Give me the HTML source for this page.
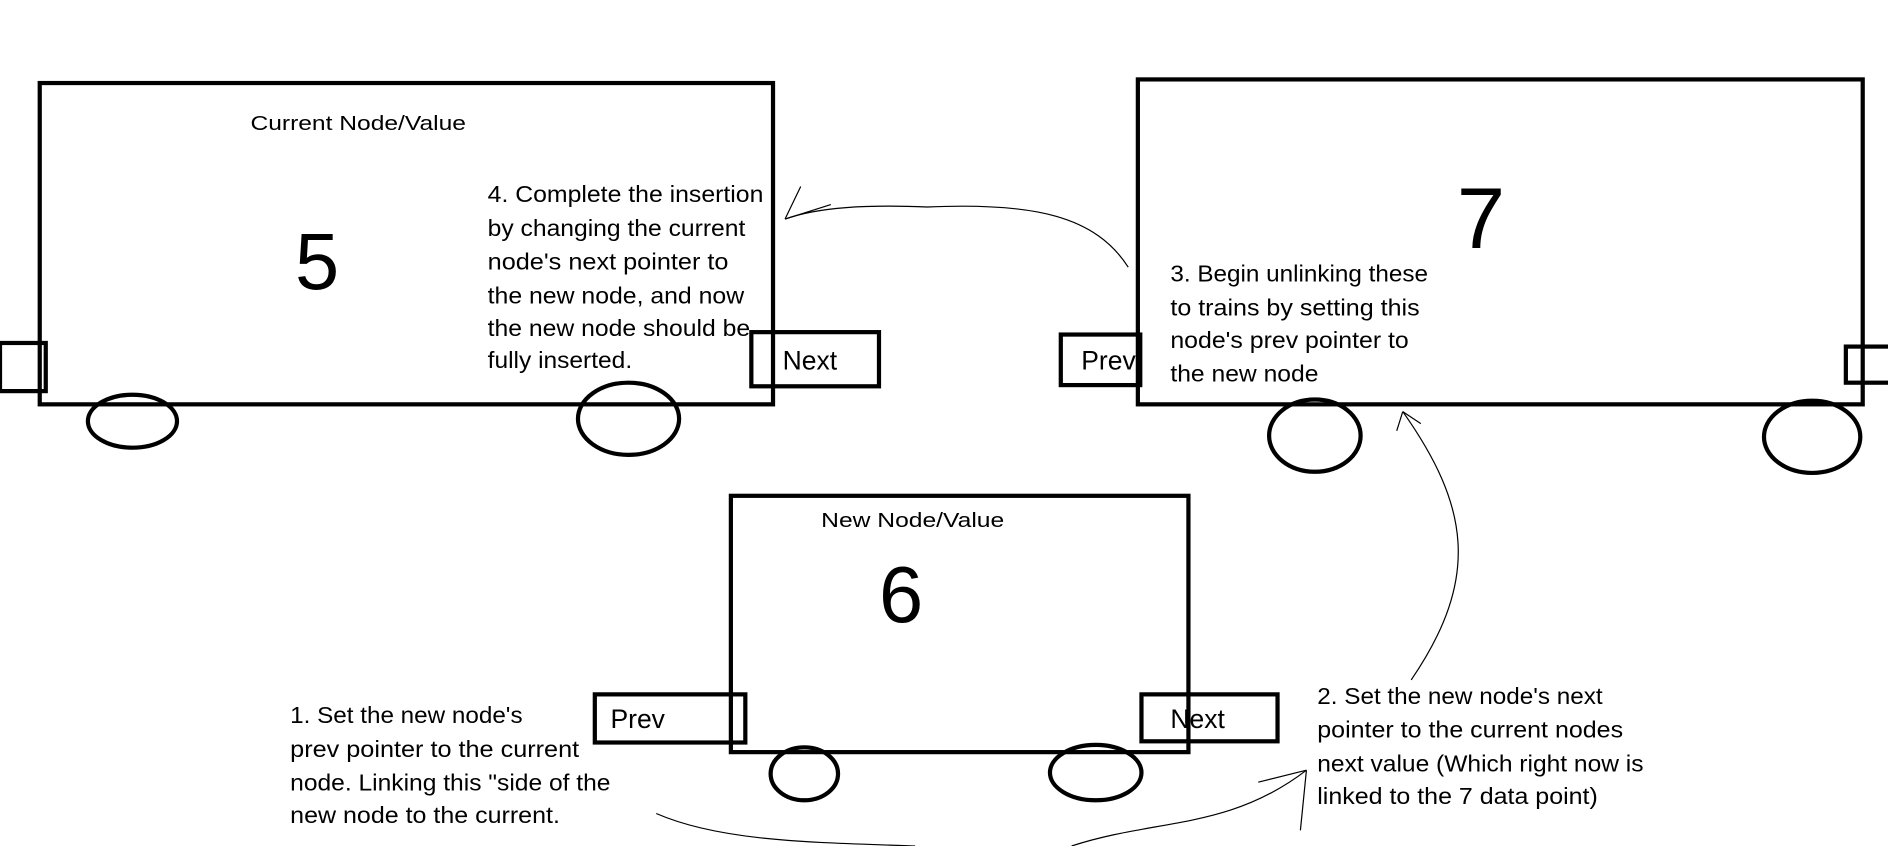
<!DOCTYPE html>
<html><head><style>html,body{margin:0;padding:0;background:#fff;overflow:hidden}svg{display:block}text{font-family:"Liberation Sans",sans-serif;fill:#000}</style></head>
<body>
<svg width="1888" height="846" viewBox="0 0 1568 703" preserveAspectRatio="none" xmlns="http://www.w3.org/2000/svg">
<g fill="none" stroke="#000" stroke-width="3.5">
<rect x="33" y="69" width="609" height="267"/>
<rect x="0" y="285" width="38" height="40"/>
<ellipse cx="110" cy="350" rx="37" ry="22"/>
<ellipse cx="522" cy="348" rx="42" ry="30"/>
<rect x="624" y="276" width="106" height="45"/>
<rect x="945" y="66" width="602" height="270"/>
<rect x="881" y="278" width="66" height="42"/>
<rect x="1533" y="288" width="40" height="30"/>
<ellipse cx="1092" cy="362" rx="38" ry="30"/>
<ellipse cx="1505" cy="363" rx="40" ry="30"/>
<rect x="607" y="412" width="380" height="213"/>
<rect x="494" y="577" width="125" height="40"/>
<rect x="948" y="577" width="113" height="39"/>
<ellipse cx="668" cy="643" rx="28" ry="22"/>
<ellipse cx="910" cy="642" rx="38" ry="23"/>
</g>
<g fill="none" stroke="#000" stroke-width="1">
<path d="M937 222 C910 180 860 168 770 172 C720 170 680 172 652 182"/>
<path d="M652 182 L665 155 M652 182 L690 170"/>
<path d="M1172 565 C1230 480 1220 420 1165 342"/>
<path d="M1165 342 L1160 358 M1165 342 L1180 352"/>
<path d="M545 676 C600 700 680 700 760 703"/>
<path d="M890 703 C960 680 1020 690 1085 640"/>
<path d="M1085 640 L1080 690 M1085 640 L1045 650"/>
</g>
<text x="208" y="108" font-size="17" textLength="179" lengthAdjust="spacingAndGlyphs">Current Node/Value</text>
<text x="245" y="240" font-size="66">5</text>
<text x="650" y="307" font-size="22">Next</text>
<g font-size="19">
<text x="405" y="168" textLength="229" lengthAdjust="spacingAndGlyphs">4. Complete the insertion</text>
<text x="405" y="196" textLength="214" lengthAdjust="spacingAndGlyphs">by changing the current</text>
<text x="405" y="224" textLength="200" lengthAdjust="spacingAndGlyphs">node's next pointer to</text>
<text x="405" y="252" textLength="213" lengthAdjust="spacingAndGlyphs">the new node, and now</text>
<text x="405" y="279" textLength="218" lengthAdjust="spacingAndGlyphs">the new node should be</text>
<text x="405" y="306" textLength="120" lengthAdjust="spacingAndGlyphs">fully inserted.</text>
<text x="972" y="234" textLength="214" lengthAdjust="spacingAndGlyphs">3. Begin unlinking these</text>
<text x="972" y="262" textLength="207" lengthAdjust="spacingAndGlyphs">to trains by setting this</text>
<text x="972" y="289" textLength="198" lengthAdjust="spacingAndGlyphs">node's prev pointer to</text>
<text x="972" y="317" textLength="123" lengthAdjust="spacingAndGlyphs">the new node</text>
<text x="241" y="601" textLength="193" lengthAdjust="spacingAndGlyphs">1. Set the new node's</text>
<text x="241" y="629" textLength="240" lengthAdjust="spacingAndGlyphs">prev pointer to the current</text>
<text x="241" y="657" textLength="266" lengthAdjust="spacingAndGlyphs">node. Linking this "side of the</text>
<text x="241" y="684" textLength="224" lengthAdjust="spacingAndGlyphs">new node to the current.</text>
<text x="1094" y="585" textLength="237" lengthAdjust="spacingAndGlyphs">2. Set the new node's next</text>
<text x="1094" y="613" textLength="254" lengthAdjust="spacingAndGlyphs">pointer to the current nodes</text>
<text x="1094" y="641" textLength="271" lengthAdjust="spacingAndGlyphs">next value (Which right now is</text>
<text x="1094" y="668" textLength="233" lengthAdjust="spacingAndGlyphs">linked to the 7 data point)</text>
</g>
<text x="1210" y="206" font-size="72">7</text>
<text x="898" y="307" font-size="22">Prev</text>
<text x="682" y="438" font-size="17" textLength="152" lengthAdjust="spacingAndGlyphs">New Node/Value</text>
<text x="730" y="517" font-size="66">6</text>
<text x="507" y="605" font-size="22">Prev</text>
<text x="972" y="605" font-size="22">Next</text>
</svg>
</body></html>
